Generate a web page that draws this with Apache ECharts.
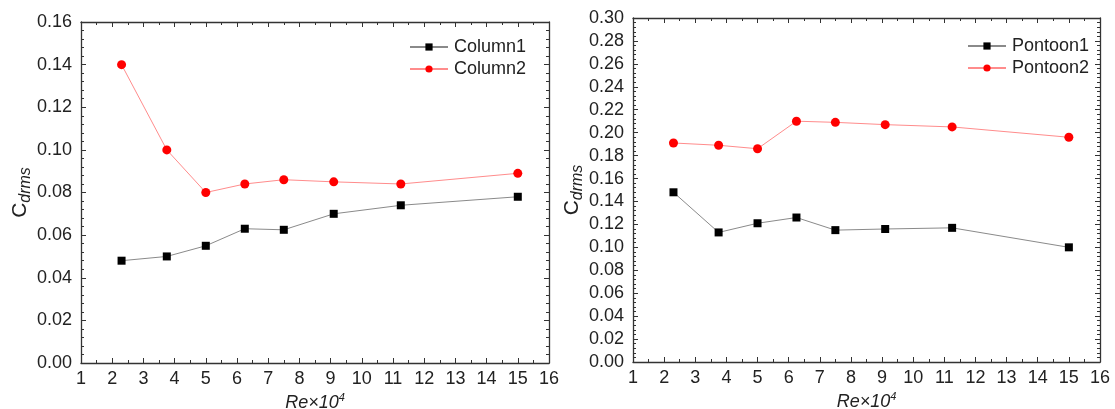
<!DOCTYPE html>
<html>
<head>
<meta charset="utf-8">
<title>Cdrms vs Re</title>
<script src="https://cdn.jsdelivr.net/npm/echarts@6/dist/echarts.min.js"></script>
<style>
  html, body { margin: 0; padding: 0; background: #fff; }
  #chart { width: 1115px; height: 409px; }
</style>
</head>
<body>
<div id="chart"></div>
<script>
// Reynolds number (×10^4) at each test point
const reX = [2.3, 3.75, 5, 6.25, 7.5, 9.1, 11.25, 15];

// RMS drag coefficient for the columns
const column1 = [0.048, 0.050, 0.055, 0.063, 0.0625, 0.070, 0.074, 0.078];
const column2 = [0.140, 0.100, 0.080, 0.084, 0.086, 0.085, 0.084, 0.089];

// RMS drag coefficient for the pontoons
const pontoon1 = [0.148, 0.113, 0.121, 0.126, 0.115, 0.116, 0.117, 0.100];
const pontoon2 = [0.191, 0.189, 0.186, 0.210, 0.209, 0.207, 0.205, 0.196];

// Axis ranges
const xRange = { min: 1, max: 16, step: 1 };
const yRangeColumn = { min: 0, max: 0.16, step: 0.02 };
const yRangePontoon = { min: 0, max: 0.30, step: 0.02 };

const FONT = "'Liberation Sans', Arial, Helvetica, sans-serif";
const TEXT = '#222';
const AXIS = '#333';

const pairs = ys => reX.map((x, i) => [x, ys[i]]);

function xAxes(grid) {
  const base = {
    type: 'value', gridIndex: grid,
    min: xRange.min, max: xRange.max, interval: xRange.step,
    axisLine: { show: true, onZero: false, lineStyle: { color: AXIS, width: 1.3 } },
    axisTick: { show: true, inside: true, length: 5, lineStyle: { color: AXIS } },
    minorTick: { show: true, splitNumber: 2, length: 3, lineStyle: { color: AXIS } },
    splitLine: { show: false }
  };
  return [
    Object.assign({}, base, {
      position: 'bottom',
      axisLabel: { color: TEXT, fontFamily: FONT, fontSize: 18, margin: 7 },
      name: '{i|Re×10}{s|4}',
      nameLocation: 'middle',
      nameGap: 28,
      nameTextStyle: {
        color: TEXT, fontFamily: FONT,
        rich: {
          i: { fontSize: 18, fontStyle: 'italic', color: TEXT, fontFamily: FONT },
          s: { fontSize: 11, fontStyle: 'italic', color: TEXT, fontFamily: FONT, padding: [0, 0, 9, 0] }
        }
      }
    }),
    Object.assign({}, base, { position: 'top', axisLabel: { show: false } })
  ];
}

function yAxes(grid, range, gap) {
  const base = {
    type: 'value', gridIndex: grid,
    min: range.min, max: range.max, interval: range.step,
    axisLine: { show: true, onZero: false, lineStyle: { color: AXIS, width: 1.3 } },
    axisTick: { show: true, inside: true, length: 5, lineStyle: { color: AXIS } },
    minorTick: { show: true, splitNumber: 5, length: 3, lineStyle: { color: AXIS } },
    splitLine: { show: false }
  };
  return [
    Object.assign({}, base, {
      position: 'left',
      axisLabel: {
        color: TEXT, fontFamily: FONT, fontSize: 18, margin: 9,
        formatter: v => v.toFixed(2)
      },
      name: '{c|C}{s|drms}',
      nameLocation: 'middle',
      nameGap: gap,
      nameTextStyle: {
        color: TEXT, fontFamily: FONT,
        rich: {
          c: { fontSize: 21, color: TEXT, fontFamily: FONT },
          s: { fontSize: 16, fontStyle: 'italic', color: TEXT, fontFamily: FONT, padding: [10, 0, 0, 0] }
        }
      }
    }),
    Object.assign({}, base, { position: 'right', axisLabel: { show: false } })
  ];
}

function lineSeries(name, data, grid, shape, markColor, lineColor) {
  return {
    name, type: 'line',
    xAxisIndex: grid * 2, yAxisIndex: grid * 2,
    data: pairs(data),
    symbol: shape,
    symbolSize: shape === 'rect' ? 8 : 9,
    showSymbol: true,
    itemStyle: { color: markColor, borderWidth: 0 },
    lineStyle: { color: lineColor, width: 1 },
    emphasis: { disabled: true },
    animation: false
  };
}

const legendBase = {
  orient: 'vertical',
  itemWidth: 38, itemHeight: 9, itemGap: 4,
  textStyle: { color: TEXT, fontFamily: FONT, fontSize: 18, padding: [0, 0, 0, 1] },
  selectedMode: false
};

const option = {
  backgroundColor: '#fff',
  animation: false,
  grid: [
    { left: 81, right: 566, top: 22, bottom: 46, outerBoundsMode: 'none' },
    { left: 633, right: 15, top: 18, bottom: 47, outerBoundsMode: 'none' }
  ],
  xAxis: [...xAxes(0), ...xAxes(1)],
  yAxis: [...yAxes(0, yRangeColumn, 47), ...yAxes(1, yRangePontoon, 47)],
  legend: [
    Object.assign({}, legendBase, { left: 404, top: 33, data: ['Column1', 'Column2'] }),
    Object.assign({}, legendBase, { left: 962, top: 32, data: ['Pontoon1', 'Pontoon2'] })
  ],
  series: [
    lineSeries('Column1', column1, 0, 'rect', '#000', '#8a8a8a'),
    lineSeries('Column2', column2, 0, 'circle', '#ff0000', '#ff8c8c'),
    lineSeries('Pontoon1', pontoon1, 1, 'rect', '#000', '#8a8a8a'),
    lineSeries('Pontoon2', pontoon2, 1, 'circle', '#ff0000', '#ff8c8c')
  ]
};

const chart = echarts.init(document.getElementById('chart'), null, { renderer: 'canvas' });
chart.setOption(option);
</script>
</body>
</html>
